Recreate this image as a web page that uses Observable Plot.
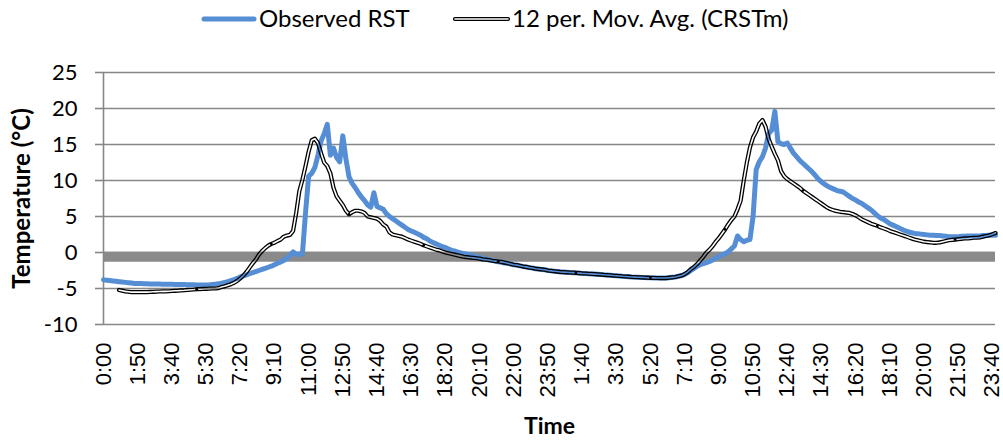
<!DOCTYPE html>
<html><head><meta charset="utf-8">
<script src="https://cdn.jsdelivr.net/npm/d3@7"></script>
<script src="https://cdn.jsdelivr.net/npm/@observablehq/plot@0.6"></script>
<style>
body{margin:0;background:#fff;font-family:Lato,sans-serif;}
#legend{display:block;}
#chart svg{display:block;}
</style></head><body>
<svg id="legend" width="1003" height="40"></svg>
<div id="chart"></div>
<script>
// Tick labels every 11 samples (10-minute sampling over two days)
const xTickLabels = ["0:00","1:50","3:40","5:30","7:20","9:10","11:00","12:50","14:40","16:30","18:20","20:10","22:00","23:50","1:40","3:30","5:20","7:10","9:00","10:50","12:40","14:30","16:20","18:10","20:00","21:50","23:40"];
const tickStep = 11;
const yTicks = [-10,-5,0,5,10,15,20,25];
const seriesNames = ["Observed RST","12 per. Mov. Avg. (CRSTm)"];
const xTitle = "Time";
const yTitle = "Temperature (°C)";
const bandValue = -0.6;

// Observed RST, one value per 10 minutes (288 values)
const observedRST = [
-3.8,-3.85,-3.9,-3.95,-4.0,-4.05,-4.1,-4.15,-4.2,-4.25,
-4.3,-4.3,-4.32,-4.34,-4.35,-4.36,-4.37,-4.38,-4.39,-4.4,
-4.4,-4.41,-4.42,-4.43,-4.44,-4.45,-4.46,-4.47,-4.48,-4.49,
-4.5,-4.5,-4.5,-4.5,-4.5,-4.45,-4.4,-4.35,-4.25,-4.15,
-4.05,-3.9,-3.75,-3.6,-3.4,-3.25,-3.1,-2.95,-2.8,-2.65,
-2.5,-2.35,-2.2,-2.05,-1.9,-1.7,-1.5,-1.3,-1.1,-0.8,
-0.4,0.1,-0.3,-0.2,-0.2,5.5,10.6,11.0,11.8,13.5,
15.5,16.5,17.8,13.5,14.5,13.2,12.6,16.2,13.0,10.5,
9.6,9.0,8.3,7.7,7.2,6.6,6.3,8.3,6.4,6.2,
6.0,5.4,5.0,4.7,4.4,4.1,3.8,3.5,3.2,3.0,
2.8,2.6,2.4,2.1,1.9,1.6,1.4,1.2,1.0,0.8,
0.7,0.5,0.3,0.2,0.05,-0.05,-0.15,-0.25,-0.35,-0.45,
-0.6,-0.7,-0.8,-0.9,-1.0,-1.1,-1.2,-1.3,-1.35,-1.45,
-1.5,-1.6,-1.7,-1.75,-1.85,-1.95,-2.0,-2.1,-2.15,-2.25,
-2.3,-2.35,-2.4,-2.5,-2.55,-2.6,-2.65,-2.7,-2.72,-2.75,
-2.78,-2.8,-2.83,-2.86,-2.9,-2.92,-2.95,-2.97,-3.0,-3.03,
-3.06,-3.1,-3.13,-3.16,-3.2,-3.23,-3.26,-3.3,-3.33,-3.36,
-3.4,-3.42,-3.44,-3.46,-3.48,-3.5,-3.52,-3.53,-3.54,-3.55,
-3.55,-3.55,-3.5,-3.45,-3.4,-3.3,-3.2,-3.05,-2.8,-2.5,
-2.2,-1.9,-1.7,-1.55,-1.4,-1.25,-1.05,-0.8,-0.55,-0.35,
-0.15,0.1,0.5,0.9,2.3,1.8,1.5,1.7,1.8,5.0,
11.5,12.6,13.3,14.5,16.5,17.0,19.6,15.4,15.1,15.0,
15.2,14.5,13.8,13.3,12.8,12.4,12.0,11.6,11.2,10.7,
10.2,9.8,9.5,9.2,9.0,8.8,8.6,8.5,8.4,8.1,
7.8,7.5,7.3,7.0,6.8,6.5,6.2,5.9,5.5,5.1,
4.8,4.6,4.3,4.0,3.8,3.6,3.4,3.2,3.0,2.85,
2.75,2.65,2.6,2.55,2.5,2.45,2.4,2.4,2.35,2.35,
2.3,2.25,2.2,2.2,2.2,2.2,2.25,2.25,2.3,2.3,
2.3,2.3,2.3,2.35,2.35,2.4,2.4,2.4
];

// 12 per. moving average of CRSTm (starts a few samples in)
const movAvgCRSTm = [
null,null,null,null,null,-5.2,-5.3,-5.4,-5.45,-5.5,
-5.5,-5.5,-5.5,-5.5,-5.5,-5.48,-5.46,-5.44,-5.42,-5.4,
-5.4,-5.38,-5.35,-5.32,-5.3,-5.27,-5.24,-5.2,-5.17,-5.14,
-5.1,-5.08,-5.06,-5.04,-5.02,-5.0,-5.0,-4.95,-4.8,-4.7,
-4.55,-4.4,-4.2,-3.95,-3.6,-3.2,-2.7,-2.1,-1.5,-1.0,
-0.3,0.2,0.6,0.95,1.2,1.35,1.6,1.8,2.2,2.35,
2.45,3.0,5.5,8.5,10.1,12.0,14.0,15.6,15.8,15.2,
13.8,12.5,12.0,11.0,9.0,7.8,7.2,6.6,5.8,5.3,
5.6,5.8,5.8,5.7,5.5,5.0,4.9,4.8,4.7,4.4,
3.9,3.6,2.8,2.5,2.4,2.3,2.2,2.0,1.8,1.65,
1.5,1.35,1.2,1.0,0.85,0.7,0.55,0.4,0.3,0.15,
0.0,-0.1,-0.2,-0.3,-0.4,-0.5,-0.6,-0.65,-0.7,-0.75,
-0.8,-0.85,-0.95,-1.0,-1.05,-1.15,-1.2,-1.25,-1.3,-1.4,
-1.5,-1.6,-1.7,-1.75,-1.85,-1.95,-2.0,-2.1,-2.15,-2.25,
-2.3,-2.35,-2.4,-2.5,-2.55,-2.6,-2.65,-2.7,-2.72,-2.75,
-2.78,-2.8,-2.83,-2.86,-2.9,-2.92,-2.95,-2.97,-3.0,-3.03,
-3.06,-3.1,-3.13,-3.16,-3.2,-3.23,-3.26,-3.3,-3.33,-3.36,
-3.4,-3.42,-3.44,-3.46,-3.48,-3.5,-3.52,-3.53,-3.54,-3.55,
-3.55,-3.55,-3.5,-3.45,-3.4,-3.3,-3.2,-3.0,-2.7,-2.3,
-2.0,-1.6,-1.1,-0.6,0.0,0.4,0.9,1.5,2.0,2.6,
3.2,3.9,4.5,5.0,6.0,7.2,10.0,12.5,14.6,16.0,
16.8,17.9,18.4,17.5,15.8,14.7,13.7,12.8,11.3,10.6,
10.2,9.9,9.6,9.3,9.0,8.6,8.3,8.0,7.7,7.4,
7.1,6.8,6.5,6.2,6.0,5.85,5.75,5.65,5.6,5.55,
5.5,5.35,5.15,4.9,4.6,4.4,4.2,4.0,3.85,3.7,
3.5,3.35,3.2,3.0,2.85,2.7,2.55,2.4,2.25,2.1,
1.95,1.8,1.7,1.6,1.5,1.45,1.4,1.35,1.35,1.4,
1.5,1.6,1.7,1.75,1.8,1.85,1.9,1.95,1.95,2.0,
2.05,2.05,2.1,2.2,2.3,2.4,2.55,2.7
];

// sample indices where the double line shows small joints
const joints = [30,54,79,103,127,152,176,200,225,249,274];

const blue = "#558ED5";
const gridColor = "#878787";

const rows = observedRST.map((v,i)=>({i, obs:v, avg:movAvgCRSTm[i]}));
const avgRows = rows.filter(d=>d.avg!=null);
const tickIdx = xTickLabels.map((d,k)=>k*tickStep);

const chart = Plot.plot({
  width:1003, height:400,
  marginTop:32, marginBottom:116, marginLeft:103, marginRight:8,
  style:{fontFamily:"Lato, sans-serif", fontSize:"22px", color:"#000", background:"#fff"},
  x:{domain:[0,287], axis:null},
  y:{domain:[-10,25], axis:null},
  marks:[
    Plot.ruleY(yTicks, {stroke:gridColor, strokeWidth:1.6}),
    Plot.ruleY([bandValue], {stroke:"#8a8a8a", strokeWidth:10}),
    Plot.ruleX([0], {y1:-10, y2:25, stroke:gridColor, strokeWidth:1.6}),
    Plot.axisY({ticks:yTicks, label:null, tickSize:8, tickPadding:18, stroke:gridColor, strokeWidth:1.6, fill:"#000", fontSize:22, tickFormat:d=>String(d).replace("−","-")}),
    Plot.axisX({ticks:tickIdx, label:null, tickFormat:i=>xTickLabels[Math.round(i/tickStep)], tickRotate:-90, tickSize:0, tickPadding:18, fill:"#000", fontSize:22, fontFamily:"Liberation Sans"}),
    Plot.text([yTitle], {frameAnchor:"left", textAnchor:"middle", lineAnchor:"middle", rotate:-90, dx:-81, fontWeight:"bold", fontSize:24, fill:"#000"}),
    Plot.text([xTitle], {frameAnchor:"bottom", textAnchor:"middle", lineAnchor:"middle", dy:102, fontWeight:"bold", fontSize:23, fill:"#000"}),
    Plot.line(rows, {x:"i", y:"obs", stroke:blue, strokeWidth:5, strokeLinejoin:"round"}),
    Plot.line(avgRows, {x:"i", y:"avg", stroke:"#000", strokeWidth:4.2, strokeLinejoin:"round", strokeLinecap:"round", className:"mavg"}),
    Plot.dot(joints, {x:d=>d, y:d=>movAvgCRSTm[d], r:1.4, fill:"#000"})
  ]
});
document.getElementById("chart").appendChild(chart);

// make the moving-average line a hollow double line
function hollow(svgSel, pathSel, id, inner){
  const defs = svgSel.insert("defs", ":first-child");
  const m = defs.append("mask").attr("id", id).attr("maskUnits","userSpaceOnUse")
    .attr("x",-2000).attr("y",-2000).attr("width",5000).attr("height",5000);
  m.append("rect").attr("x",-2000).attr("y",-2000).attr("width",5000).attr("height",5000).attr("fill","white");
  pathSel.each(function(){
    m.append("path").attr("d", this.getAttribute("d")).attr("fill","none")
     .attr("stroke","black").attr("stroke-width",inner).attr("stroke-linejoin","round").attr("stroke-linecap","round");
  });
  pathSel.attr("mask", `url(#${id})`);
}
const svg = d3.select(chart);
hollow(svg, svg.selectAll("g.mavg path"), "hollowAvg", 1.6);

// legend
const lg = d3.select("#legend");
lg.append("line").attr("x1",204).attr("x2",254).attr("y1",19).attr("y2",19)
  .attr("stroke",blue).attr("stroke-width",5).attr("stroke-linecap","round");
lg.append("text").attr("x",259).attr("y",27).attr("font-size",24).attr("font-family","Lato").text(seriesNames[0]);
const sw = lg.append("path").attr("d","M455,19H508").attr("stroke","#000").attr("stroke-width",4.2)
  .attr("stroke-linecap","round").attr("fill","none");
hollow(lg, sw, "hollowLeg", 1.6);
lg.append("text").attr("x",512).attr("y",27).attr("font-size",24).attr("font-family","Lato").text(seriesNames[1]);
</script>
</body></html>
